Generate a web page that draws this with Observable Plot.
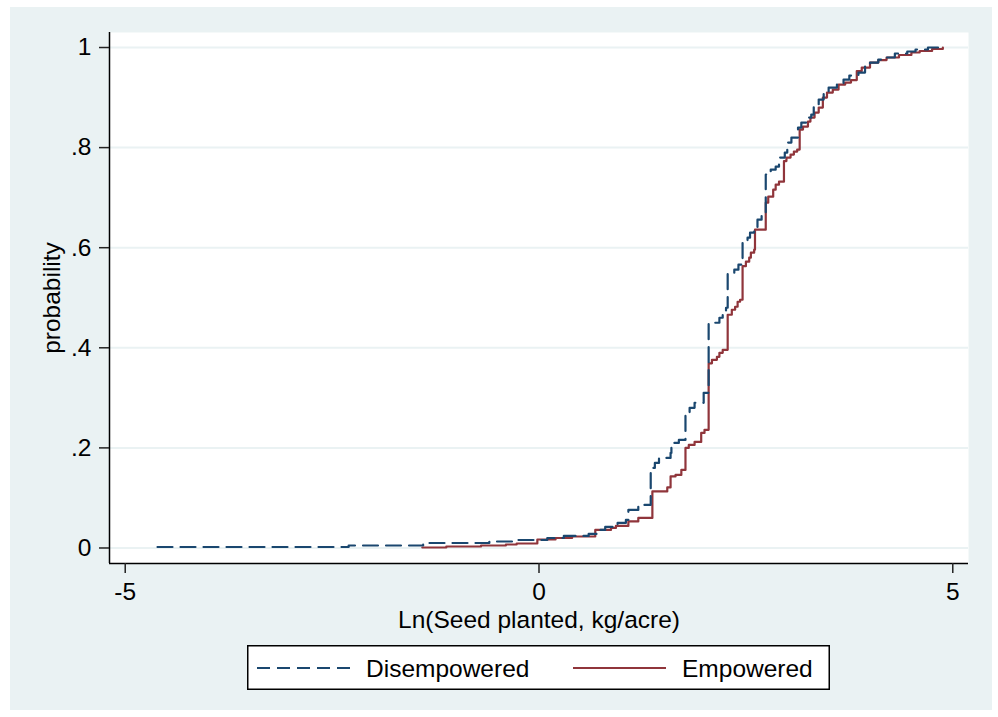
<!DOCTYPE html>
<html>
<head>
<meta charset="utf-8">
<script src="https://cdn.jsdelivr.net/npm/d3@7"></script>
<script src="https://cdn.jsdelivr.net/npm/@observablehq/plot@0.6"></script>
<style>
  html, body { margin: 0; padding: 0; background: #ffffff; }
  body { width: 998px; height: 717px; position: relative; overflow: hidden; font-family: "Liberation Sans", Arial, sans-serif; }
  #outer { position: absolute; left: 10px; top: 7px; width: 982px; height: 703px; background: #eaf2f3; }
  #chart { position: absolute; left: 0; top: 0; }
  #legend { position: absolute; left: 237px; top: 638px; }
</style>
</head>
<body>
<div id="outer">
  <div id="chart"></div>
  <div id="legend"></div>
</div>
<script>
// ---- Data ----
const seriesNames = ["Disempowered", "Empowered"];
const seriesColors = ["#1a476f", "#90353b"];

const disempX = [-4.61, -2.3, -1.4, -0.6, -0.27, 0.1, 0.3, 0.6, 0.7, 0.8, 0.95, 1.05, 1.08, 1.2, 1.35, 1.4, 1.45, 1.59, 1.6, 1.69, 1.77, 1.82, 1.88, 1.99, 2.05, 2.18, 2.22, 2.26, 2.28, 2.36, 2.41, 2.46, 2.52, 2.55, 2.6, 2.64, 2.69, 2.74, 2.8, 2.86, 2.9, 2.97, 3.0, 3.05, 3.13, 3.17, 3.23, 3.29, 3.32, 3.38, 3.44, 3.5, 3.6, 3.68, 3.75, 3.86, 3.94, 4.0, 4.1, 4.2, 4.3, 4.45, 4.55, 4.7, 4.88];
const disempY = [0.002, 0.005, 0.01, 0.013, 0.016, 0.02, 0.024, 0.028, 0.036, 0.042, 0.05, 0.056, 0.076, 0.086, 0.16, 0.17, 0.18, 0.19, 0.21, 0.216, 0.27, 0.28, 0.29, 0.31, 0.45, 0.46, 0.47, 0.48, 0.55, 0.556, 0.566, 0.61, 0.62, 0.63, 0.64, 0.656, 0.67, 0.746, 0.756, 0.762, 0.78, 0.79, 0.81, 0.82, 0.84, 0.85, 0.86, 0.866, 0.886, 0.896, 0.912, 0.92, 0.926, 0.936, 0.944, 0.95, 0.962, 0.97, 0.976, 0.98, 0.988, 0.992, 0.996, 1.0, 1.0];

const empX = [-1.41, -1.12, -0.7, -0.4, -0.27, -0.02, 0.2, 0.4, 0.68, 0.87, 0.93, 1.08, 1.2, 1.37, 1.55, 1.59, 1.65, 1.72, 1.77, 1.81, 1.88, 1.96, 2.0, 2.05, 2.09, 2.15, 2.18, 2.22, 2.28, 2.33, 2.37, 2.4, 2.43, 2.46, 2.5, 2.54, 2.56, 2.6, 2.61, 2.74, 2.77, 2.83, 2.86, 2.9, 2.96, 2.99, 3.04, 3.08, 3.12, 3.15, 3.19, 3.25, 3.28, 3.33, 3.38, 3.43, 3.48, 3.55, 3.62, 3.7, 3.77, 3.84, 3.9, 4.0, 4.1, 4.2, 4.35, 4.5, 4.6, 4.75, 4.88];
const empY = [0.001, 0.003, 0.005, 0.007, 0.009, 0.017, 0.02, 0.023, 0.036, 0.04, 0.044, 0.053, 0.06, 0.113, 0.121, 0.143, 0.146, 0.156, 0.2, 0.206, 0.212, 0.23, 0.236, 0.369, 0.376, 0.382, 0.39, 0.396, 0.466, 0.476, 0.482, 0.492, 0.496, 0.563, 0.572, 0.58, 0.59, 0.596, 0.636, 0.69, 0.702, 0.716, 0.726, 0.732, 0.773, 0.78, 0.786, 0.792, 0.796, 0.836, 0.842, 0.852, 0.86, 0.87, 0.88, 0.9, 0.91, 0.916, 0.926, 0.93, 0.935, 0.953, 0.96, 0.97, 0.975, 0.98, 0.985, 0.99, 0.993, 0.997, 1.0];

const xTicks = [-5, 0, 5];
const yTicks = [0, 0.2, 0.4, 0.6, 0.8, 1];
const yTickLabels = ["0", ".2", ".4", ".6", ".8", "1"];
const xLabel = "Ln(Seed planted, kg/acre)";
const yLabel = "probability";

// ---- Build tables ----
const disemp = disempX.map((x, i) => ({x, y: disempY[i]}));
const emp = empX.map((x, i) => ({x, y: empY[i]}));

const xDomain = [-5.19, 5.19];
const yDomain = [-0.031, 1.03];
const FS = 24.5;

const plot = Plot.plot({
  width: 982,
  height: 630,
  marginLeft: 99,
  marginRight: 24,
  marginTop: 25,
  marginBottom: 74,
  style: { background: "transparent", fontFamily: "'Liberation Sans', Arial, sans-serif", color: "#000" },
  x: { domain: xDomain },
  y: { domain: yDomain },
  marks: [
    Plot.frame({ fill: "#ffffff", stroke: "none" }),
    Plot.ruleY(yTicks, { stroke: "#eaf2f3", strokeWidth: 2 }),
    Plot.line(emp, { x: "x", y: "y", curve: "step-after", stroke: seriesColors[1], strokeWidth: 2.2 }),
    Plot.line(disemp, { x: "x", y: "y", curve: "step-after", stroke: seriesColors[0], strokeWidth: 2.2, strokeDasharray: "15,8" }),
    Plot.ruleX([xDomain[0]], { stroke: "#000", strokeWidth: 1.5 }),
    Plot.ruleY([yDomain[0]], { stroke: "#000", strokeWidth: 1.5 }),
    Plot.axisY({ ticks: yTicks, tickFormat: (d) => yTickLabels[yTicks.indexOf(d)], tickSize: 10, tickPadding: 8, fontSize: FS, label: null, stroke: "#222", strokeWidth: 1.5 }),
    Plot.axisX({ ticks: xTicks, tickFormat: d => d, tickSize: 10, tickPadding: 9, fontSize: FS, label: null, stroke: "#222", strokeWidth: 1.5 }),
    Plot.text([xLabel], { frameAnchor: "bottom", dy: 57, lineAnchor: "middle", fontSize: FS, fill: "#000" }),
    Plot.text([yLabel], { frameAnchor: "left", dx: -57, rotate: -90, lineAnchor: "middle", textAnchor: "middle", fontSize: FS, fill: "#000" })
  ]
});
document.getElementById("chart").appendChild(plot);

// ---- Legend ----
const lw = 583, lh = 45;
const lsvg = d3.select("#legend").append("svg").attr("width", lw).attr("height", lh)
  .style("font-family", "'Liberation Sans', Arial, sans-serif");
lsvg.append("rect").attr("x", 0.75).attr("y", 0.75).attr("width", lw - 1.5).attr("height", lh - 1.5)
  .attr("fill", "#fff").attr("stroke", "#000").attr("stroke-width", 1.5);
const items = [
  { name: seriesNames[0], color: seriesColors[0], dash: "13,7", x0: 10, x1: 103, tx: 119 },
  { name: seriesNames[1], color: seriesColors[1], dash: null, x0: 326, x1: 419, tx: 435 }
];
items.forEach(it => {
  lsvg.append("line").attr("x1", it.x0).attr("x2", it.x1).attr("y1", 23).attr("y2", 23)
    .attr("stroke", it.color).attr("stroke-width", 2.2).attr("stroke-dasharray", it.dash);
  lsvg.append("text").attr("x", it.tx).attr("y", 23).attr("dy", "0.35em")
    .attr("font-size", FS).attr("fill", "#000").text(it.name);
});
</script>
</body>
</html>
